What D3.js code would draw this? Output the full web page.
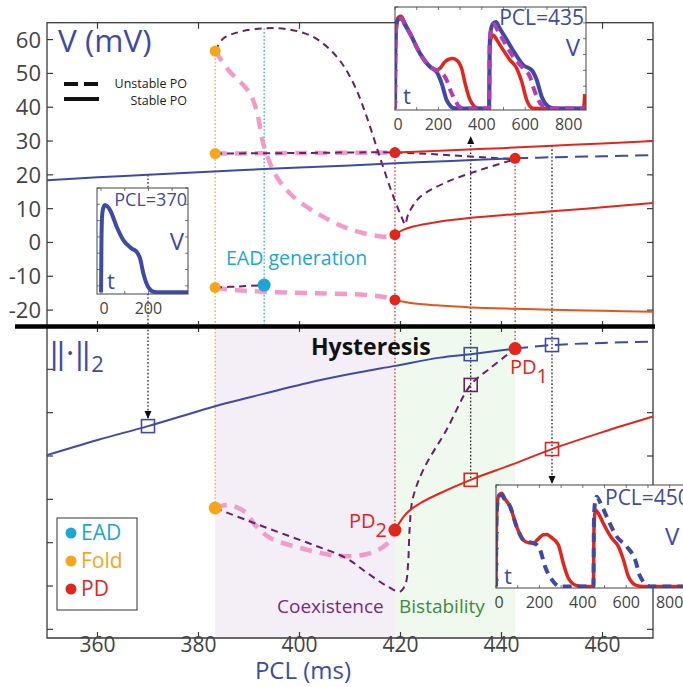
<!DOCTYPE html>
<html>
<head>
<meta charset="utf-8">
<script src="https://cdn.jsdelivr.net/npm/d3@7"></script>
<style>
  body { margin: 0; background: #fff; }
  svg { display: block; font-family: "Open Sans", "Noto Sans", sans-serif; }
</style>
</head>
<body>
<svg id="chart" width="683" height="687"></svg>
<script>
// ---------- tick values ----------
const pclTicks = [360, 380, 400, 420, 440, 460];
const vTicks = [-20, -10, 0, 10, 20, 30, 40, 50, 60];
const normTicks = [0, 1, 2, 3, 4, 5, 6];
const insetTimeTicks = [0, 200, 400, 600, 800];

// ---------- top panel: voltage extrema (PCL ms, V mV) ----------
const p1StableV = [[350,18.4],[360,19.3],[370,20.0],[380,20.8],[390,21.5],[400,22.2],[410,22.8],[420,23.5],[430,24.1],[442.7,24.9]];
const p1UnstableV = [[442.7,24.9],[450,25.2],[460,25.5],[470,25.8]];
const p2StableHiV = [[418.9,26.6],[430,27.3],[440,27.9],[450,28.6],[460,29.3],[470,30.0]];
const p2StableMidV = [[418.9,2.3],[420.5,3.7],[422.5,4.7],[427,6.0],[434,7.3],[442,8.3],[450,9.2],[460,10.4],[470,11.7]];
const p2StableLoV = [[418.9,-17.0],[422,-17.9],[427,-18.6],[434,-19.2],[442,-19.6],[450,-19.9],[460,-20.2],[470,-20.5]];
const p1UnstHiV = [[383.3,56.6],[386.2,50.5],[388.6,47.0],[390.2,44.0],[391.5,39.1],[393.0,28.3],[395.5,19.4],[398.8,13.5],[404.1,8.1],[410.0,3.9],[416.6,1.7],[418.9,1.9]];
const p1UnstMidV = [[383.3,26.3],[400,26.45],[418.9,26.6]];
const p1UnstLoV = [[383.3,-13.3],[386,-13.9],[393,-14.6],[403,-15.0],[413,-15.5],[417,-16.2],[418.9,-17.0]];
const p2UnstHiV = [[383.3,56.6],[384.9,60.3],[388.2,62.3],[392.8,63.3],[397.5,63.1],[402.7,60.8],[407.4,54.9],[410.7,47.0],[413.3,37.2],[415.9,25.3],[418.6,13.5],[420.5,6.5],[420.9,5.3],[421.6,8.6],[423.9,13.5],[429.2,17.9],[435.7,21.4],[442.7,24.6]];
const p2UnstMidV = [[383.3,26.3],[400,26.45],[418.9,26.6],[430,25.8],[442.7,24.6]];
const p2UnstLoV = [[383.3,-13.3],[388,-13.0],[393,-12.6]];
const foldV = [[383.3,56.6],[383.3,26.3],[383.3,-13.3]];
const pdV = [[418.9,26.6],[418.9,2.3],[418.9,-17.0],[442.7,24.9]];
const eadV = [[393,-12.6]];

// ---------- bottom panel: L2 norm (PCL ms, arbitrary units) ----------
const p1StableN = [[350,4.02],[360,4.37],[370,4.69],[383.3,5.15],[390,5.35],[401.4,5.68],[410,5.89],[418.9,6.08],[427.8,6.27],[433.9,6.35],[442.7,6.48]];
const p1UnstableN = [[442.7,6.48],[450,6.56],[460,6.61],[470,6.64]];
const p2StableN = [[418.9,2.29],[421.2,2.68],[423.9,2.91],[427.8,3.14],[433.9,3.45],[442,3.8],[450,4.16],[460,4.55],[470,4.91]];
const p1UnstN = [[383.3,2.80],[385.8,2.87],[389.2,2.71],[391.2,2.41],[394.2,2.11],[400.1,1.88],[408.0,1.69],[414.0,1.76],[417.5,1.99],[418.9,2.29]];
const p2UnstN = [[383.3,2.80],[389.5,2.52],[396.1,2.23],[402.7,1.95],[409.3,1.64],[413.3,1.31],[417.3,1.00],[419.9,0.87],[421.0,1.05],[421.5,1.5],[421.8,2.3],[422.4,3.0],[424.5,3.68],[429.1,4.6],[433.9,5.64],[437.7,6.02],[442.7,6.48]];
const foldN = [[383.3,2.80]];
const pdN = [[418.9,2.29],[442.7,6.48]];
const sampleN = [
  [370,4.69,"p1"],[433.9,6.35,"p1"],[433.9,5.64,"p2u"],[433.9,3.45,"p2"],[450,6.56,"p1"],[450,4.16,"p2"]
];
const coexistRange = [383.3, 418.9];
const bistableRange = [418.9, 442.7];

// ---------- action potential traces (t ms, V mV) ----------
const ap370 = [[0,-88],[2,-20],[5,8],[11,17],[17,19.3],[25,18],[38,13.1],[66,-7.5],[94,-24],[130,-34.3],[151,-38.5],[165,-46.7],[179,-65.2],[200,-81.8],[225,-87.5],[250,-88],[367,-88]];

const ap435Stable1 = [[0,-88],[2,-10],[6,15],[15,24],[31,25.4],[45,18],[69,6.5],[115,-18.6],[161,-35.5],[192,-41.8],[215,-56.4],[238,-77.4],[276,-87.9],[300,-88],[434,-88],[436,-10],[441,10],[452,19],[466,21.1],[480,14],[507,2.2],[553,-18.6],[591,-33.4],[630,-39.7],[653,-52.2],[676,-73.3],[714,-86.6],[740,-88],[880,-88]];
const ap435Period2 = [[0,-88],[2,-10],[6,18],[15,27],[28,28.3],[45,20],[69,7],[115,-18],[161,-35],[190,-39.5],[207,-37.5],[230,-29],[246,-26.2],[265,-25],[284,-27],[307,-37.5],[323,-56.4],[346,-77.4],[384,-87.9],[400,-88],[434,-88],[436,-20],[442,0],[453,4.4],[470,-2],[484,-8.2],[530,-27],[561,-37.5],[584,-54.4],[607,-77.4],[637,-87.9],[660,-88],[870,-88],[872,-80],[874,-70]];
const ap435Unstable = [[0,-88],[2,-10],[6,15],[15,24],[31,25.4],[45,18],[69,6.5],[115,-18.6],[161,-35.5],[195,-40],[215,-43],[238,-52.2],[255,-65],[269,-73.3],[300,-86.6],[320,-88],[434,-88],[436,-10],[442,10],[456,18.2],[470,12],[499,-1.9],[545,-22.9],[591,-37.5],[622,-48.1],[638,-62],[653,-73.3],[691,-86.6],[720,-88],[880,-88]];

const ap450Period2 = [[0,-88],[2,-10],[6,18],[15,28],[26,29.5],[40,23],[65,12.7],[95,-12.5],[126,-29.2],[150,-33],[172,-33.4],[195,-28],[218,-22.9],[235,-22.5],[249,-25],[287,-35.5],[310,-58.6],[333,-77.4],[372,-87],[400,-88],[449,-88],[451,-20],[454,0],[458,8.5],[470,5],[494,-8.2],[533,-27],[564,-37.6],[587,-54.4],[610,-75.4],[649,-87],[680,-88],[880,-88]];
const ap450Unstable = [[0,-88],[2,-10],[6,15],[15,26],[26,27.4],[40,22],[65,12.7],[95,-12.5],[126,-29.2],[172,-33.4],[190,-36],[203,-41.8],[226,-62.8],[257,-79.5],[295,-88],[449,-88],[451,-10],[455,15],[464,25.3],[480,18],[510,0.1],[556,-25],[602,-37.6],[641,-54.4],[664,-75.4],[710,-88],[880,-88]];

// ---------- colours ----------
const C = {
  blue: "#3f4aa6", red: "#e2261c", redLo: "#e2561e", purple: "#6a1f6c",
  pink: "#f29bc9", orange: "#f7a51c", cyan: "#1ba7d6", magenta: "#b43db6",
  axis: "#3a3a3a", tick: "#444", coex: "#f4eef6", bist: "#f0f9ed"
};

// ---------- scales ----------
const svg = d3.select("#chart");
const x = d3.scaleLinear().domain([350, 470]).range([47, 653]);
const yV = d3.scaleLinear().domain([-25, 65]).range([327, 22.7]);
const yN = d3.scaleLinear().domain([-0.2, 7]).range([638, 326]);

const lineV = d3.line().x(d => x(d[0])).y(d => yV(d[1])).curve(d3.curveCatmullRom.alpha(0.5));
const lineN = d3.line().x(d => x(d[0])).y(d => yN(d[1])).curve(d3.curveCatmullRom.alpha(0.5));

// ---------- bottom panel shading ----------
svg.append("rect").attr("x", x(coexistRange[0])).attr("y", yN(7))
  .attr("width", x(coexistRange[1]) - x(coexistRange[0])).attr("height", yN(-0.2) - yN(7))
  .attr("fill", C.coex);
svg.append("rect").attr("x", x(bistableRange[0])).attr("y", yN(7))
  .attr("width", x(bistableRange[1]) - x(bistableRange[0])).attr("height", yN(-0.2) - yN(7))
  .attr("fill", C.bist);

// ---------- frames and ticks ----------
const frame = svg.append("g").attr("fill", "none").attr("stroke", C.axis).attr("stroke-width", 1.3);
frame.append("rect").attr("x", x(350)).attr("y", yV(65)).attr("width", x(470) - x(350)).attr("height", yV(-25) - yV(65));
frame.append("path").attr("d", `M${x(350)},${yN(7)}V${yN(-0.2)}H${x(470)}V${yN(7)}`);

const tk = svg.append("g").attr("stroke", C.axis).attr("stroke-width", 1.2);
const TL = 6;
pclTicks.forEach(p => {
  tk.append("line").attr("x1", x(p)).attr("x2", x(p)).attr("y1", yV(65)).attr("y2", yV(65) + TL);
  tk.append("line").attr("x1", x(p)).attr("x2", x(p)).attr("y1", yV(-25) - TL).attr("y2", yN(7) + TL);
  tk.append("line").attr("x1", x(p)).attr("x2", x(p)).attr("y1", yN(-0.2)).attr("y2", yN(-0.2) - TL);
});
vTicks.forEach(v => {
  tk.append("line").attr("x1", x(350)).attr("x2", x(350) + TL).attr("y1", yV(v)).attr("y2", yV(v));
  tk.append("line").attr("x1", x(470)).attr("x2", x(470) - TL).attr("y1", yV(v)).attr("y2", yV(v));
});
normTicks.forEach(n => {
  tk.append("line").attr("x1", x(350)).attr("x2", x(350) + TL).attr("y1", yN(n)).attr("y2", yN(n));
  tk.append("line").attr("x1", x(470)).attr("x2", x(470) - TL).attr("y1", yN(n)).attr("y2", yN(n));
});

svg.append("g").selectAll("text").data(vTicks).join("text")
  .attr("x", 41).attr("y", d => yV(d)).attr("dy", "0.36em")
  .attr("text-anchor", "end").attr("font-size", 22).attr("fill", C.tick)
  .text(d => d);
svg.append("g").selectAll("text").data(pclTicks).join("text")
  .attr("x", d => x(d)).attr("y", 652)
  .attr("text-anchor", "middle").attr("font-size", 21).attr("fill", C.tick)
  .text(d => d);

// ---------- dotted guide lines ----------
const guides = [
  { pcl: 383.3, y1: yV(56.6), y2: yN(2.80), c: C.orange },
  { pcl: 393, y1: yV(63.3), y2: yV(-25), c: C.cyan },
  { pcl: 418.9, y1: yV(26.6), y2: yN(2.29), c: C.red },
  { pcl: 442.7, y1: yV(24.9), y2: yN(6.48), c: C.red },
  { pcl: 370, y1: yV(20.0), y2: yN(4.69) - 7, c: "#111" },
  { pcl: 433.9, y1: 138, y2: yN(3.45), c: "#111" },
  { pcl: 450, y1: yV(28.6), y2: 484, c: "#111" }
];
svg.append("g").selectAll("line").data(guides).join("line")
  .attr("x1", d => x(d.pcl)).attr("x2", d => x(d.pcl))
  .attr("y1", d => d.y1).attr("y2", d => d.y2)
  .attr("stroke", d => d.c).attr("stroke-width", 1.2).attr("stroke-dasharray", "1.6,2");

// arrowheads on the black guides
const arrows = [
  { pcl: 370, tip: yN(4.69) - 7, dir: 1 },
  { pcl: 433.9, tip: 136, dir: -1 },
  { pcl: 450, tip: 484, dir: 1 }
];
svg.append("g").selectAll("path").data(arrows).join("path")
  .attr("d", d => {
    const cx = x(d.pcl), t = d.tip, b = t - d.dir * 8;
    return `M${cx},${t}L${cx - 3.5},${b}L${cx + 3.5},${b}Z`;
  })
  .attr("fill", "#111");

// ---------- top panel curves ----------
const gTop = svg.append("g").attr("fill", "none");
function curveTop(data, color, w, dash) {
  gTop.append("path").attr("d", lineV(data)).attr("stroke", color).attr("stroke-width", w)
    .attr("stroke-dasharray", dash || null);
}
curveTop(p1UnstHiV, C.pink, 4.5, "12,8");
curveTop(p1UnstMidV, C.pink, 4.5, "12,8");
curveTop(p1UnstLoV, C.pink, 4.5, "12,8");
curveTop(p2UnstHiV, C.purple, 2, "7,5");
curveTop(p2UnstMidV, C.purple, 2, "7,5");
curveTop(p2UnstLoV, C.purple, 2, "7,5");
curveTop(p1StableV, C.blue, 2);
curveTop(p1UnstableV, C.blue, 2, "13,7");
curveTop(p2StableHiV, C.red, 2);
curveTop(p2StableMidV, C.red, 2);
curveTop(p2StableLoV, C.redLo, 2);

// ---------- bottom panel curves ----------
const gBot = svg.append("g").attr("fill", "none");
function curveBot(data, color, w, dash) {
  gBot.append("path").attr("d", lineN(data)).attr("stroke", color).attr("stroke-width", w)
    .attr("stroke-dasharray", dash || null);
}
curveBot(p1UnstN, C.pink, 4.5, "12,8");
curveBot(p2UnstN, C.purple, 2, "7,5");
curveBot(p1StableN, C.blue, 2);
curveBot(p1UnstableN, C.blue, 2, "13,7");
curveBot(p2StableN, C.red, 2);

// ---------- markers ----------
const dots = svg.append("g");
function dot(data, yS, color, r) {
  dots.append("g").selectAll("circle").data(data).join("circle")
    .attr("cx", d => x(d[0])).attr("cy", d => yS(d[1])).attr("r", r).attr("fill", color);
}
dot(foldV, yV, C.orange, 5.5);
dot(pdV, yV, C.red, 5.5);
dot(eadV, yV, C.cyan, 6.5);
dot(foldN, yN, C.orange, 6.5);
dot(pdN, yN, C.red, 6.5);
const sqColor = { p1: C.blue, p2: C.red, p2u: C.purple };
dots.append("g").selectAll("rect").data(sampleN).join("rect")
  .attr("x", d => x(d[0]) - 6.5).attr("y", d => yN(d[1]) - 6.5)
  .attr("width", 13).attr("height", 13)
  .attr("fill", "none").attr("stroke", d => sqColor[d[2]]).attr("stroke-width", 1.6);

// panel separator
svg.append("line").attr("x1", 15).attr("x2", 655).attr("y1", 326.5).attr("y2", 326.5)
  .attr("stroke", "#000").attr("stroke-width", 4.5);

// ---------- inset action potentials ----------
function inset(cfg) {
  const g = svg.append("g");
  const { x0, y0, w, h } = cfg;
  const tx = d3.scaleLinear().domain(cfg.tDomain).range([x0, x0 + w]);
  const ty = d3.scaleLinear().domain([-90, 40]).range([y0 + h, y0]);
  const id = "clip" + cfg.name;
  g.append("clipPath").attr("id", id).append("rect")
    .attr("x", x0).attr("y", y0 - 4).attr("width", w).attr("height", h + 4);
  g.append("rect").attr("x", x0).attr("y", y0).attr("width", w).attr("height", h)
    .attr("fill", "#fff");
  const tks = g.append("g").attr("stroke", "#555").attr("stroke-width", 0.8);
  d3.range(0, cfg.tDomain[1], 100).forEach(t => {
    tks.append("line").attr("x1", tx(t)).attr("x2", tx(t)).attr("y1", y0).attr("y2", y0 + 3);
    tks.append("line").attr("x1", tx(t)).attr("x2", tx(t)).attr("y1", y0 + h).attr("y2", y0 + h - 3);
  });
  d3.range(-80, 41, 20).forEach(v => {
    tks.append("line").attr("x1", x0).attr("x2", x0 + 3).attr("y1", ty(v)).attr("y2", ty(v));
    tks.append("line").attr("x1", x0 + w).attr("x2", x0 + w - 3).attr("y1", ty(v)).attr("y2", ty(v));
  });
  const ln = d3.line().x(d => tx(d[0])).y(d => ty(d[1])).curve(d3.curveMonotoneX);
  const tr = g.append("g").attr("clip-path", `url(#${id})`).attr("fill", "none")
    .attr("stroke-linejoin", "round");
  cfg.traces.forEach(s => {
    tr.append("path").attr("d", ln(s.data)).attr("stroke", s.color)
      .attr("stroke-width", s.w).attr("stroke-dasharray", s.dash || null);
  });
  g.append("rect").attr("x", x0).attr("y", y0).attr("width", w).attr("height", h)
    .attr("fill", "none").attr("stroke", "#444").attr("stroke-width", 1);
  g.append("g").selectAll("text").data(cfg.ticks).join("text")
    .attr("x", d => tx(d) + (d === 0 ? 3 : 0)).attr("y", y0 + h + 20).attr("text-anchor", "middle")
    .attr("font-size", 16).attr("fill", C.tick).text(d => d);
  cfg.labels.forEach(l => {
    g.append("text").attr("x", l.x).attr("y", l.y).attr("text-anchor", l.anchor || "start")
      .attr("font-size", l.size).attr("fill", C.blue).text(l.text);
  });
}

inset({
  name: "a", x0: 97, y0: 188, w: 91, h: 106, tDomain: [-17, 367], ticks: [0, 200],
  traces: [{ data: ap370, color: C.blue, w: 4 }],
  labels: [
    { text: "PCL=370", x: 187, y: 206, anchor: "end", size: 18 },
    { text: "V", x: 184, y: 250, anchor: "end", size: 24 },
    { text: "t", x: 107, y: 289, size: 22 }
  ]
});
inset({
  name: "b", x0: 395, y0: 7, w: 191, h: 103, tDomain: [0, 880], ticks: insetTimeTicks,
  traces: [
    { data: ap435Period2, color: C.red, w: 3.5 },
    { data: ap435Stable1, color: C.blue, w: 4 },
    { data: ap435Unstable, color: C.magenta, w: 4, dash: "9,6" }
  ],
  labels: [
    { text: "PCL=435", x: 584, y: 25, anchor: "end", size: 21 },
    { text: "V", x: 580, y: 56, anchor: "end", size: 24 },
    { text: "t", x: 403, y: 104, size: 22 }
  ]
});
inset({
  name: "c", x0: 496, y0: 485, w: 191, h: 103, tDomain: [0, 880], ticks: insetTimeTicks,
  traces: [
    { data: ap450Period2, color: C.red, w: 3.5 },
    { data: ap450Unstable, color: C.blue, w: 4, dash: "9,6" }
  ],
  labels: [
    { text: "PCL=450", x: 605, y: 505, size: 21 },
    { text: "V", x: 665, y: 545, size: 24 },
    { text: "t", x: 504, y: 584, size: 22 }
  ]
});

// ---------- annotations ----------
svg.append("text").attr("x", 58).attr("y", 52).attr("font-size", 31.5).attr("fill", C.blue).text("V (mV)");

// stability key
svg.append("line").attr("x1", 64).attr("x2", 99).attr("y1", 84).attr("y2", 84)
  .attr("stroke", "#111").attr("stroke-width", 4).attr("stroke-dasharray", "14,6");
svg.append("line").attr("x1", 64).attr("x2", 99).attr("y1", 99).attr("y2", 99)
  .attr("stroke", "#111").attr("stroke-width", 4);
svg.append("text").attr("x", 187).attr("y", 88).attr("text-anchor", "end")
  .attr("font-size", 12.5).attr("fill", "#222").text("Unstable PO");
svg.append("text").attr("x", 187).attr("y", 105).attr("text-anchor", "end")
  .attr("font-size", 12.5).attr("fill", "#222").text("Stable PO");

svg.append("text").attr("x", 226).attr("y", 265).attr("font-size", 19.5).attr("fill", C.cyan)
  .text("EAD generation");

const norm = svg.append("text").attr("x", 49).attr("y", 364).attr("font-size", 31).attr("fill", C.blue);
norm.append("tspan").text("\u2016\u00b7\u2016");
norm.append("tspan").attr("font-size", 22).attr("dy", 8).text("2");

svg.append("text").attr("x", 311).attr("y", 355).attr("font-size", 23).attr("font-weight", "bold")
  .attr("fill", "#111").text("Hysteresis");

const pd2 = svg.append("text").attr("x", 349).attr("y", 528).attr("font-size", 20).attr("fill", C.red);
pd2.append("tspan").text("PD");
pd2.append("tspan").attr("font-size", 20).attr("dy", 9).text("2");
const pd1 = svg.append("text").attr("x", 510).attr("y", 374).attr("font-size", 20).attr("fill", C.red);
pd1.append("tspan").text("PD");
pd1.append("tspan").attr("font-size", 20).attr("dy", 9).text("1");

svg.append("text").attr("x", 277).attr("y", 613).attr("font-size", 19).attr("fill", "#7a2b7e").text("Coexistence");
svg.append("text").attr("x", 399).attr("y", 613).attr("font-size", 19).attr("fill", "#3f8b3d").text("Bistability");

// marker key
const key = svg.append("g");
key.append("rect").attr("x", 57).attr("y", 518).attr("width", 80).attr("height", 92)
  .attr("fill", "#fff").attr("stroke", "#333").attr("stroke-width", 1);
const keyItems = [["EAD", C.cyan], ["Fold", C.orange], ["PD", C.red]];
keyItems.forEach((k, i) => {
  const yy = 533 + i * 28;
  key.append("circle").attr("cx", 71).attr("cy", yy).attr("r", 5.5).attr("fill", k[1]);
  key.append("text").attr("x", 81).attr("y", yy).attr("dy", "0.35em").attr("font-size", 21)
    .attr("fill", k[1]).text(k[0]);
});

svg.append("text").attr("x", 303).attr("y", 679).attr("text-anchor", "middle")
  .attr("font-size", 24).attr("fill", C.blue).text("PCL (ms)");
</script>
</body>
</html>
